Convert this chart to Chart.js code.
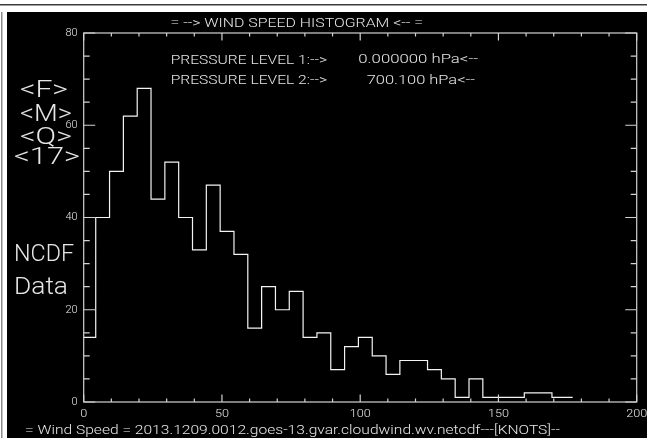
<!DOCTYPE html>
<html>
<head>
<meta charset="utf-8">
<script src="https://cdn.jsdelivr.net/npm/chart.js@4/dist/chart.umd.min.js"></script>
<style>
  html, body { margin: 0; padding: 0; background: #fff; }
  canvas { display: block; }
</style>
</head>
<body>
<canvas id="hist" width="647" height="438"></canvas>
<script>
// Wind speed histogram counts, 5-knot bins
const counts = [14, 40, 50, 62, 68, 44, 52, 40, 33, 47, 37, 32, 16, 25, 20, 24, 14, 15,
                7, 12, 14, 10, 6, 9, 9, 7, 5, 1, 5, 1, 1, 1, 2, 2, 1, 1];
const binWidth = 5;          // knots
const firstBinLeft = -0.65;  // left edge of the first bin, knots
const lastStepEnd = 176.85;  // the last step stops at the centre of the final bin

const xTickLabels = [0, 50, 100, 150, 200];
const yTickLabels = [0, 20, 40, 60, 80];

const titleText = '= --> WIND SPEED HISTOGRAM <-- =';
const pressureLabels = ['PRESSURE LEVEL 1:-->', 'PRESSURE LEVEL 2:-->'];
const pressureValues = ['0.000000 hPa<--', '700.100 hPa<--'];
const sideTags = ['<F>', '<M>', '<Q>', '<17>', 'NCDF', 'Data'];
const xAxisTitle = '= Wind Speed = 2013.1209.0012.goes-13.gvar.cloudwind.wv.netcdf---[KNOTS]--';

// step points: each bin starts at its left edge
const points = counts.map((c, i) => ({ x: firstBinLeft + i * binWidth, y: c }));
points.push({ x: lastStepEnd, y: counts[counts.length - 1] });

const INK = '#e6e6e6';
const AXIS = '#d2d2d2';
const FONT = 'Roboto, "DejaVu Sans", sans-serif';

// text placement: [text, left, right, cap middle, cap height]
const textLayout = [
  [titleText, 170.5, 423, 23, 8.5],
  [pressureLabels[0], 170.7, 327, 59, 9],
  [pressureValues[0], 358.3, 478, 58.5, 9],
  [pressureLabels[1], 170.7, 327, 79, 9],
  [pressureValues[1], 366.7, 475, 79.5, 9],
  [sideTags[0], 20, 68, 89, 16.7],
  [sideTags[1], 20, 72, 112.5, 16.7],
  [sideTags[2], 20, 72, 135.5, 16.7],
  [sideTags[3], 14, 80, 155.5, 16.7],
  [sideTags[4], 14, 74, 252.5, 17],
  [sideTags[5], 14, 68, 285.5, 17],
  [xAxisTitle, 25, 560, 429.5, 9]
];

function fitText(ctx, str, x0, x1, capMid, capH) {
  const size = capH / 0.71;
  ctx.font = '300 ' + size + 'px ' + FONT;
  const w = ctx.measureText(str).width;
  ctx.save();
  ctx.translate(x0, capMid + capH / 2);
  ctx.scale((x1 - x0) / w, 1);
  ctx.textAlign = 'left';
  ctx.textBaseline = 'alphabetic';
  ctx.fillStyle = INK;
  ctx.fillText(str, 0, 0);
  ctx.restore();
}

const idlFrame = {
  id: 'idlFrame',
  beforeDraw(chart) {
    const ctx = chart.ctx;
    const W = chart.width, H = chart.height;
    ctx.save();
    ctx.fillStyle = '#ffffff';
    ctx.fillRect(0, 0, W, H);
    ctx.fillStyle = '#3c3c3c';
    ctx.fillRect(0, 4, W, 1.5);
    ctx.fillStyle = '#8c8c8c';
    ctx.fillRect(1, 12, 1.5, H - 12);
    ctx.fillStyle = '#000000';
    ctx.fillRect(7, 12, W - 7, H - 12);
    ctx.restore();
  },
  afterDraw(chart) {
    const ctx = chart.ctx;
    const { left, right, top, bottom } = chart.chartArea;
    const xs = chart.scales.x, ys = chart.scales.y;
    ctx.save();
    ctx.strokeStyle = AXIS;
    ctx.lineWidth = 1.2;
    ctx.strokeRect(left, top, right - left, bottom - top);
    ctx.beginPath();
    for (let v = xs.min; v <= xs.max; v += 10) {
      const len = v % 50 === 0 ? 7.5 : 3.5;
      const px = xs.getPixelForValue(v);
      ctx.moveTo(px, bottom); ctx.lineTo(px, bottom - len);
      ctx.moveTo(px, top); ctx.lineTo(px, top + len);
    }
    for (let v = ys.min; v <= ys.max; v += 5) {
      const len = v % 20 === 0 ? 11.5 : 6;
      const py = ys.getPixelForValue(v);
      ctx.moveTo(left, py); ctx.lineTo(left + len, py);
      ctx.moveTo(right, py); ctx.lineTo(right - len, py);
    }
    ctx.stroke();

    // x tick labels, centred under their ticks, slightly widened
    ctx.font = '300 11px ' + FONT;
    ctx.fillStyle = INK;
    ctx.textAlign = 'center';
    ctx.textBaseline = 'alphabetic';
    xTickLabels.forEach(v => {
      ctx.save();
      ctx.translate(xs.getPixelForValue(v), bottom + 15);
      ctx.scale(1.15, 1);
      ctx.fillText(String(v), 0, 0);
      ctx.restore();
    });
    ctx.restore();

    textLayout.forEach(t => fitText(ctx, t[0], t[1], t[2], t[3], t[4]));
  }
};

const tickFont = { family: FONT, size: 11, weight: '300' };

new Chart(document.getElementById('hist'), {
  type: 'line',
  data: {
    datasets: [{
      data: points,
      stepped: true,
      borderColor: '#f4f4f4',
      borderWidth: 1.2,
      pointRadius: 0,
      fill: false
    }]
  },
  options: {
    responsive: false,
    animation: false,
    devicePixelRatio: 1,
    layout: { padding: { top: 33, right: 10.3, left: 0, bottom: 0 }, autoPadding: false },
    plugins: { legend: { display: false }, tooltip: { enabled: false }, title: { display: false } },
    scales: {
      x: {
        type: 'linear', min: 0, max: 200,
        grid: { display: false, drawTicks: false },
        border: { display: false },
        ticks: { display: false, stepSize: 50 },
        afterFit: s => { s.height = 36; }
      },
      y: {
        type: 'linear', min: 0, max: 80,
        grid: { display: false, drawTicks: false },
        border: { display: false },
        ticks: {
          color: INK, font: tickFont, padding: 6, autoSkip: false,
          callback: v => (yTickLabels.includes(v) ? String(v) : null),
          stepSize: 20
        },
        afterFit: s => { s.width = 83.7; }
      }
    }
  },
  plugins: [idlFrame]
});
</script>
</body>
</html>
